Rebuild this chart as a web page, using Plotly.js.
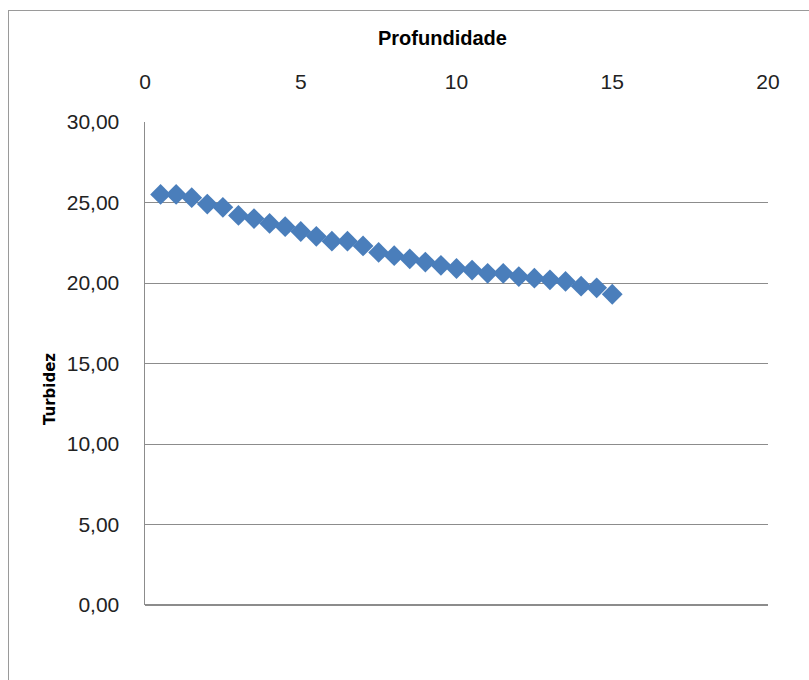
<!DOCTYPE html>
<html>
<head>
<meta charset="utf-8">
<script src="https://cdn.plot.ly/plotly-3.0.1.min.js"></script>
<style>
  html, body { margin: 0; padding: 0; background: #fff; }
  #wrap { position: relative; width: 809px; height: 680px; }
  #chart { width: 809px; height: 680px; }
  #frame { position: absolute; left: 8px; top: 10px; width: 820px; height: 700px;
           border: 1.5px solid #9a9a9a; pointer-events: none; }
</style>
</head>
<body>
<div id="wrap">
  <div id="chart"></div>
  <div id="frame"></div>
</div>
<script>
const profundidade = [0.5, 1.0, 1.5, 2.0, 2.5, 3.0, 3.5, 4.0, 4.5, 5.0,
                      5.5, 6.0, 6.5, 7.0, 7.5, 8.0, 8.5, 9.0, 9.5, 10.0,
                      10.5, 11.0, 11.5, 12.0, 12.5, 13.0, 13.5, 14.0, 14.5, 15.0];
const turbidez = [25.5, 25.5, 25.3, 24.9, 24.7, 24.2, 24.0, 23.7, 23.5, 23.2,
                  22.9, 22.6, 22.6, 22.3, 21.9, 21.7, 21.5, 21.3, 21.1, 20.9,
                  20.8, 20.6, 20.6, 20.4, 20.3, 20.2, 20.1, 19.8, 19.7, 19.3];
const xTicks = [0, 5, 10, 15, 20];
const yTicks = [0, 5, 10, 15, 20, 25, 30];
const xTitle = "Profundidade";
const yTitle = "Turbidez";

const tickFont = { family: "Liberation Sans Narrow, Arial Narrow, Liberation Sans, sans-serif", size: 21, color: "#222" };

Plotly.newPlot("chart", [{
  x: profundidade,
  y: turbidez,
  type: "scatter",
  mode: "markers",
  marker: { symbol: "diamond", size: 16, color: "#4A7EBB" },
  showlegend: false
}], {
  width: 809, height: 680,
  margin: { l: 145, r: 41, t: 122, b: 75 },
  paper_bgcolor: "#fff", plot_bgcolor: "#fff",
  separators: ",.",
  showlegend: false,
  xaxis: {
    side: "top",
    range: [0, 20],
    tickvals: xTicks,
    showgrid: false,
    zeroline: false,
    showline: false,
    ticks: "",
    ticklabelstandoff: 28,
    tickfont: tickFont
  },
  yaxis: {
    range: [0, 30],
    tickvals: yTicks,
    tickformat: ".2f",
    showgrid: true,
    gridcolor: "#8c8c8c",
    gridwidth: 1,
    zeroline: true,
    zerolinecolor: "#8c8c8c",
    zerolinewidth: 1.5,
    showline: true,
    linecolor: "#8c8c8c",
    linewidth: 1.5,
    ticks: "",
    ticklabelstandoff: 20,
    tickfont: tickFont
  },
  annotations: [
    { text: xTitle, xref: "paper", yref: "paper", x: 0.477, y: 1.174,
      xanchor: "center", yanchor: "middle", showarrow: false,
      font: { family: "Liberation Sans Narrow, Arial Narrow, Liberation Sans, sans-serif", size: 20, color: "#000", weight: "bold" } },
    { text: yTitle, xref: "paper", yref: "paper", x: -0.1525, y: 0.447,
      xanchor: "center", yanchor: "middle", showarrow: false, textangle: -90,
      font: { family: "DejaVu Sans, Verdana, sans-serif", size: 15, color: "#000", weight: "bold" } }
  ]
}, { displayModeBar: false, staticPlot: true });
</script>
</body>
</html>
